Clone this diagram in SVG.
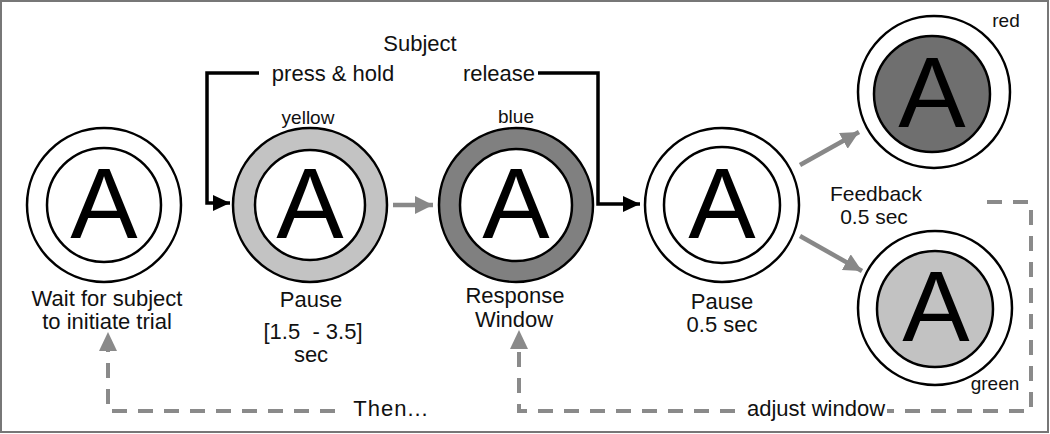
<svg xmlns="http://www.w3.org/2000/svg" width="1050" height="434" viewBox="0 0 1050 434">
<style>
text{font-family:"Liberation Sans",Arial,sans-serif;fill:#111}
.lbl{font-size:22px;text-anchor:middle}
.fb{font-size:21px;text-anchor:middle}
.sm{font-size:19px;text-anchor:middle}
.big{font-size:101px;text-anchor:middle;fill:#000}
.c{stroke:#000;stroke-width:2.5}
.blk{fill:none;stroke:#000;stroke-width:3.5}
.gry{fill:none;stroke:#888;stroke-width:4.5}
.dash{fill:none;stroke:#8a8a8a;stroke-width:4;stroke-dasharray:15 11}
</style>
<defs>
<marker id="mb" markerUnits="userSpaceOnUse" markerWidth="20" markerHeight="16" refX="17" refY="8" orient="auto"><path d="M0,0 L17,8 L0,16 z" fill="#000"/></marker>
<marker id="mg" markerUnits="userSpaceOnUse" markerWidth="20" markerHeight="20" refX="18" refY="9" orient="auto"><path d="M0,0 L18,9 L0,18 z" fill="#888"/></marker>
<marker id="md" markerUnits="userSpaceOnUse" markerWidth="20" markerHeight="20" refX="0" refY="9" orient="auto"><path d="M0,0 L19,9 L0,18 z" fill="#8a8a8a"/></marker>
</defs>
<rect x="1" y="1" width="1047" height="431" fill="#fff" stroke="#777" stroke-width="2"/>

<g id="connectors">
<path class="blk" d="M259,73 H207 V203 H230" marker-end="url(#mb)"/>
<path class="blk" d="M538,73 H598 V204 H640" marker-end="url(#mb)"/>
<path class="gry" d="M393,205 H433" marker-end="url(#mg)"/>
<path class="gry" d="M800,165 L859,132" marker-end="url(#mg)"/>
<path class="gry" d="M800,236 L862,271" marker-end="url(#mg)"/>
<path class="dash" d="M335,411 H108 V351" marker-end="url(#md)"/>
<path class="dash" d="M987,202 H1031 V411 H887"/>
<path class="dash" d="M735,411 H519 V349" marker-end="url(#md)"/>
</g>

<g id="labels">
<text class="lbl" x="420" y="51">Subject</text>
<text class="lbl" x="333" y="81">press &amp; hold</text>
<text class="lbl" x="499" y="81">release</text>
<text class="fb" x="876" y="201">Feedback</text>
<text class="fb" x="874" y="224">0.5 sec</text>
<text class="lbl" x="391" y="416" letter-spacing="1">Then...</text>
<text class="lbl" x="816" y="416">adjust window</text>
</g>

<g id="wait">
<circle class="c" cx="104" cy="205" r="77" fill="#fff"/>
<circle class="c" cx="104" cy="205" r="57" fill="#fff"/>
<text class="big" x="104" y="238">A</text>
<text class="lbl" x="107" y="306">Wait for subject</text>
<text class="lbl" x="107" y="329">to initiate trial</text>
</g>

<g id="pause1">
<circle class="c" cx="310" cy="205" r="77" fill="#c3c3c3"/>
<circle class="c" cx="310" cy="205" r="55" fill="#fff"/>
<text class="big" x="310" y="238">A</text>
<text class="sm" x="308" y="124">yellow</text>
<text class="lbl" x="311" y="307">Pause</text>
<text class="lbl" x="313" y="339" xml:space="preserve">[1.5  - 3.5]</text>
<text class="lbl" x="311" y="362">sec</text>
</g>

<g id="response">
<circle class="c" cx="516" cy="205" r="77" fill="#808080"/>
<circle class="c" cx="516" cy="205" r="56" fill="#fff"/>
<text class="big" x="516" y="238">A</text>
<text class="sm" x="516" y="123">blue</text>
<text class="lbl" x="515" y="303">Response</text>
<text class="lbl" x="514" y="327">Window</text>
</g>

<g id="pause2">
<circle class="c" cx="722" cy="205" r="77" fill="#fff"/>
<circle class="c" cx="722" cy="205" r="58" fill="#fff"/>
<text class="big" x="722" y="238">A</text>
<text class="lbl" x="722" y="309">Pause</text>
<text class="lbl" x="722" y="332">0.5 sec</text>
</g>

<g id="red">
<circle class="c" cx="934" cy="92" r="76" fill="#fff"/>
<circle class="c" cx="932" cy="94" r="58" fill="#6f6f6f"/>
<text class="big" x="932" y="127">A</text>
<text class="sm" x="1006" y="27">red</text>
</g>

<g id="green">
<circle class="c" cx="935" cy="308" r="77" fill="#fff"/>
<circle class="c" cx="935" cy="309" r="58" fill="#c2c2c2"/>
<text class="big" x="936" y="341">A</text>
<text class="sm" x="995" y="390">green</text>
</g>
</svg>
